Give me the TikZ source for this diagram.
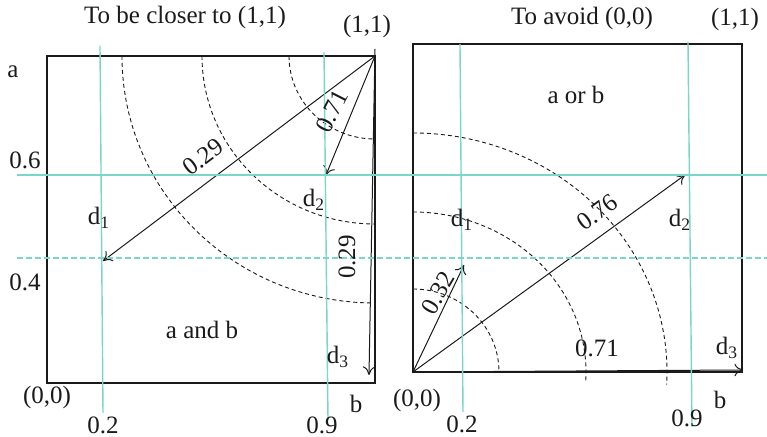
\documentclass[tikz,border=0pt]{standalone}
\usepackage{fontspec}
\setmainfont{Liberation Serif}
\usetikzlibrary{arrows.meta}
\definecolor{ink}{HTML}{1A1A1A}
\definecolor{guide}{HTML}{7AD6C6}
\tikzset{
  frame/.style={draw=ink,line width=0.6pt},
  guideline/.style={draw=guide,line width=0.7pt},
  guidedash/.style={draw=guide,line width=0.7pt,dash pattern=on 3pt off 1.5pt},
  ring/.style={draw=ink,line width=0.45pt,dash pattern=on 2pt off 1.5pt},
  vec/.style={-{To[length=1.5mm,width=2.2mm]},draw=ink,line width=0.5pt},
  lbl/.style={font=\fontsize{12.5}{15}\selectfont,inner sep=0pt,text=ink}
}

\begin{document}
\begin{tikzpicture}[x=0.5pt,y=0.5pt]
    \path[use as bounding box] (0,0) rectangle (767,437);

    % left panel: distance to (1,1)
    \draw[frame] (47,54) rectangle (375,381);
    \coordinate (lone) at (375,381);
    \coordinate (ltop) at (375,388);
    \coordinate (ldone) at (103,176);
    \coordinate (ldtwo) at (326,262);
    \coordinate (ldthree) at (369,62);
    \draw[ring] (289,381) arc[start angle=180,end angle=270,x radius=86,y radius=83];
    \draw[ring] (202,381) arc[start angle=180,end angle=270,x radius=173,y radius=168];
    \draw[ring] (122,381) arc[start angle=180,end angle=270,x radius=253,y radius=247];
    \draw[vec] (lone) -- (ldone);
    \draw[vec] (lone) -- (ldtwo);
    \draw[vec] (ltop) -- (ldthree);

    % right panel: distance to (0,0)
    \draw[frame] (413,65) rectangle (742,393);
    \coordinate (rzero) at (413,65);
    \coordinate (rdone) at (464,172);
    \coordinate (rdtwo) at (685,262);
    \coordinate (rdthree) at (743,67);
    \draw[ring] (413,148) arc[start angle=90,end angle=0,x radius=86,y radius=83];
    \draw[ring] (413,225) arc[start angle=90,end angle=-3,x radius=173,y radius=160];
    \draw[ring] (413,304) arc[start angle=90,end angle=-3,x radius=254,y radius=239];
    \draw[vec] (rzero) -- (rdone);
    \draw[vec] (rzero) -- (rdtwo);
    \draw[vec] (rzero) -- (rdthree);

    % guide lines
    \draw[guideline] (17,262) -- (767,262);
    \draw[guidedash] (17,179) -- (767,179);
    \draw[guideline] (100,391) -- (103,24);
    \draw[guideline] (324,385) -- (328,17);
    \draw[guideline] (460,393) -- (463,25);
    \draw[guideline] (688,395) -- (692,10);

    % left labels
    \node[lbl] (ltitle) at (185,419) {To be closer to (1,1)};
    \node[lbl] (lcorner) at (367,410) {(1,1)};
    \node[lbl] (laxa) at (13,365) {a};
    \node[lbl] (lsix) at (25,277) {0.6};
    \node[lbl] (lfour) at (25,155) {0.4};
    \node[lbl] (lorigin) at (47,40) {(0,0)};
    \node[lbl] (ltwo) at (103,12) {0.2};
    \node[lbl] (lnine) at (322,12) {0.9};
    \node[lbl] (laxb) at (356,33) {b};
    \node[lbl] (lnameone) at (99,219) {d\textsubscript{1}};
    \node[lbl] (lnametwo) at (314,237) {d\textsubscript{2}};
    \node[lbl] (lnamethree) at (338,80) {d\textsubscript{3}};
    \node[lbl] (land) at (202,107) {a and b};
    \node[lbl,rotate=37] (llenone) at (203,280) {0.29};
    \node[lbl,rotate=63] (llentwo) at (332,326) {0.71};
    \node[lbl,rotate=90] (llenthree) at (347,180) {0.29};

    % right labels
    \node[lbl] (rtitle) at (582,418) {To avoid (0,0)};
    \node[lbl] (rcorner) at (735,417) {(1,1)};
    \node[lbl] (ror) at (576,342) {a or b};
    \node[lbl] (rnameone) at (462,217) {d\textsubscript{1}};
    \node[lbl] (rnametwo) at (680,217) {d\textsubscript{2}};
    \node[lbl] (rnamethree) at (727,89) {d\textsubscript{3}};
    \node[lbl,rotate=36] (rlentwo) at (597,225) {0.76};
    \node[lbl,rotate=60] (rlenone) at (438,144) {0.32};
    \node[lbl] (rlenthree) at (597,89) {0.71};
    \node[lbl] (rorigin) at (417,37) {(0,0)};
    \node[lbl] (rtwo) at (462,13) {0.2};
    \node[lbl] (rnine) at (687,19) {0.9};
    \node[lbl] (raxb) at (720,37) {b};
  \end{tikzpicture}
\end{document}
